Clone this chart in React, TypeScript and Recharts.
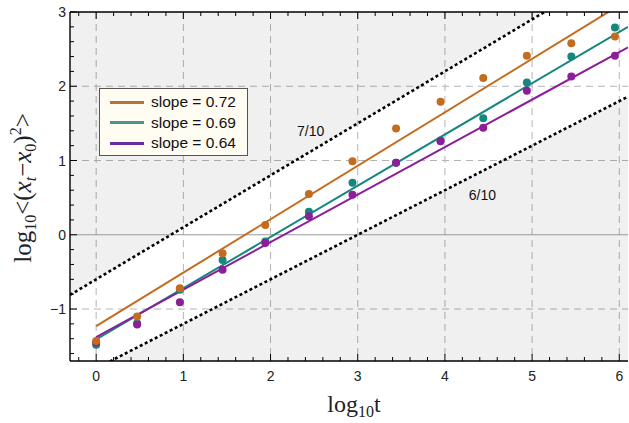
import React from "react";
import {
  ComposedChart,
  Line,
  Scatter,
  Area,
  XAxis,
  YAxis,
  CartesianGrid,
  ReferenceLine,
  ReferenceDot,
  Legend,
} from "recharts";

// ---- data ----
const logT = [0, 0.47, 0.96, 1.45, 1.94, 2.44, 2.94, 3.44, 3.95, 4.44, 4.94, 5.45, 5.95];
const orangeVals = [-1.43, -1.1, -0.72, -0.25, 0.13, 0.55, 0.99, 1.43, 1.79, 2.11, 2.41, 2.58, 2.67];
const tealVals = [-1.48, -1.19, -0.74, -0.34, -0.09, 0.31, 0.7, 0.97, 1.27, 1.57, 2.05, 2.4, 2.79];
const purpleVals = [-1.45, -1.21, -0.91, -0.47, -0.11, 0.25, 0.54, 0.97, 1.26, 1.44, 1.94, 2.13, 2.41];

const fitOrange = [{ x: 0, y: -1.23 }, { x: 6.1, y: 3.162 }];
const fitTeal = [{ x: 0, y: -1.41 }, { x: 6.1, y: 2.799 }];
const fitPurple = [{ x: 0, y: -1.38 }, { x: 6.1, y: 2.524 }];

const guideUpper = [{ x: -0.3, y: -0.81 }, { x: 6.1, y: 3.67 }]; // slope 7/10
const guideLower = [{ x: -0.3, y: -1.98 }, { x: 6.1, y: 1.86 }]; // slope 6/10

const legendItems = [
  { label: "slope = 0.72", color: "#B8733A" },
  { label: "slope = 0.69", color: "#4E918D" },
  { label: "slope = 0.64", color: "#6B2C9E" },
];

const annotations = [
  { x: 2.46, y: 1.4, text: "7/10" },
  { x: 4.43, y: 0.53, text: "6/10" },
];

const xTickLabels = [0, 1, 2, 3, 4, 5, 6];
const yTickLabels = [-1, 0, 1, 2, 3];
const xDomain: [number, number] = [-0.3, 6.1];
const yDomain: [number, number] = [-1.7, 3];

// ---- derived tables ----
const pts = (vals: number[]) => logT.map((x, i) => ({ x, y: vals[i] }));
const orangePts = pts(orangeVals);
const tealPts = pts(tealVals);
const purplePts = pts(purpleVals);

const upperShade = guideUpper.map((p) => ({ x: p.x, band: [p.y, 5] }));
const lowerShade = guideLower.map((p) => ({ x: p.x, band: [-4, p.y] }));

const xMinor: number[] = [];
for (let i = 0; i <= 31; i++) xMinor.push(Math.round((-0.2 + i * 0.2) * 10) / 10);
const yMinor: number[] = [];
for (let i = 0; i <= 23; i++) yMinor.push(Math.round((-1.6 + i * 0.2) * 10) / 10);

const isMajorX = (v: number) => xTickLabels.some((t) => Math.abs(t - v) < 1e-6);
const isMajorY = (v: number) => yTickLabels.some((t) => Math.abs(t - v) < 1e-6);
const fmt = (v: number) => (v < 0 ? "\u2212" + Math.abs(v) : String(v));

const COL_O = "#C46C1E";
const COL_T = "#16877F";
const COL_P = "#8C1E98";
const SANS = "'Liberation Sans', Arial, sans-serif";
const SERIF = "'Liberation Serif', 'Times New Roman', serif";

const XTickBottom = (props: any) => {
  const { x, y, payload } = props;
  const major = isMajorX(payload.value);
  return (
    <g>
      <line x1={x} x2={x} y1={y} y2={y - (major ? 7 : 4)} stroke="#000" strokeWidth={1} />
      {major && (
        <text x={x} y={y + 20} textAnchor="middle" fontSize={14} fontFamily={SANS} fill="#222">
          {fmt(payload.value)}
        </text>
      )}
    </g>
  );
};

const XTickTop = (props: any) => {
  const { x, y, payload } = props;
  const major = isMajorX(payload.value);
  return <line x1={x} x2={x} y1={y} y2={y + (major ? 7 : 4)} stroke="#000" strokeWidth={1} />;
};

const YTickLeft = (props: any) => {
  const { x, y, payload } = props;
  const major = isMajorY(payload.value);
  return (
    <g>
      <line x1={x} x2={x + (major ? 7 : 4)} y1={y} y2={y} stroke="#000" strokeWidth={1} />
      {major && (
        <text x={x - 4} y={y + 5} textAnchor="end" fontSize={14} fontFamily={SANS} fill="#222">
          {fmt(payload.value)}
        </text>
      )}
    </g>
  );
};

const YLabel = () => (
  <text
    transform="translate(31,188) rotate(-90)"
    textAnchor="middle"
    fontFamily={SERIF}
    fontSize={25}
    fill="#222"
  >
    <tspan>log</tspan>
    <tspan fontSize={16} dy={5}>10</tspan>
    <tspan dy={-5}>{"<("}</tspan>
    <tspan fontStyle="italic">x</tspan>
    <tspan fontStyle="italic" fontSize={16} dy={5}>t</tspan>
    <tspan dy={-5}>{"\u2212"}</tspan>
    <tspan fontStyle="italic">x</tspan>
    <tspan fontSize={16} dy={5}>0</tspan>
    <tspan dy={-5}>)</tspan>
    <tspan fontSize={16} dy={-10}>2</tspan>
    <tspan dy={10}>{">"}</tspan>
  </text>
);

const XLabel = () => (
  <text x={354} y={412} textAnchor="middle" fontFamily={SERIF} fontSize={24} fill="#222">
    <tspan>log</tspan>
    <tspan fontSize={16} dy={5}>10</tspan>
    <tspan dy={-5}>t</tspan>
  </text>
);

const LegendBox = () => (
  <div
    style={{
      width: 149,
      height: 68,
      boxSizing: "border-box",
      border: "1px solid #555",
      background: "#FFFCF2",
      padding: "3px 0 0 10px",
      fontFamily: SANS,
      fontSize: 15.5,
      color: "#111",
    }}
  >
    {legendItems.map((it) => (
      <div key={it.label} style={{ display: "flex", alignItems: "center", height: 20.5 }}>
        <div style={{ width: 34, height: 3, background: it.color, marginRight: 7 }} />
        <span>{it.label}</span>
      </div>
    ))}
  </div>
);

const dot = (color: string) => (p: any) => <circle cx={p.cx} cy={p.cy} r={4} fill={color} />;

export default function App() {
  return (
    <div style={{ position: "absolute", left: 0, top: 0, background: "#fff" }}>
      <ComposedChart width={629} height={423} margin={{ top: 0, right: 1, bottom: 0, left: 0 }}>
        <CartesianGrid
          stroke="#b4b4b4"
          strokeDasharray="7 5"
          verticalValues={xTickLabels}
          horizontalValues={[-1, 1, 2]}
        />
        <XAxis
          xAxisId={0}
          dataKey="x"
          type="number"
          domain={xDomain}
          allowDataOverflow
          ticks={xMinor}
          interval={0}
          tickSize={0}
          tickMargin={0}
          tickLine={false}
          tick={<XTickBottom />}
          axisLine={{ stroke: "#000", strokeWidth: 1.4 }}
          height={62}
          label={<XLabel />}
        />
        <XAxis
          xAxisId="top"
          orientation="top"
          dataKey="x"
          type="number"
          domain={xDomain}
          allowDataOverflow
          ticks={xMinor}
          interval={0}
          tickSize={0}
          tickMargin={0}
          tickLine={false}
          tick={<XTickTop />}
          axisLine={{ stroke: "#000", strokeWidth: 1.4 }}
          height={12}
        />
        <YAxis
          type="number"
          domain={yDomain}
          allowDataOverflow
          ticks={yMinor}
          interval={0}
          tickSize={0}
          tickMargin={0}
          tickLine={false}
          tick={<YTickLeft />}
          axisLine={{ stroke: "#000", strokeWidth: 1.4 }}
          width={70}
          label={<YLabel />}
        />
        <Area
          data={upperShade}
          dataKey="band"
          type="linear"
          stroke="none"
          fill="#000"
          fillOpacity={0.06}
          isAnimationActive={false}
          activeDot={false}
          legendType="none"
        />
        <Area
          data={lowerShade}
          dataKey="band"
          type="linear"
          stroke="none"
          fill="#000"
          fillOpacity={0.06}
          isAnimationActive={false}
          activeDot={false}
          legendType="none"
        />
        <ReferenceLine y={0} stroke="#999" strokeWidth={1} />
        <Line
          data={guideUpper}
          dataKey="y"
          type="linear"
          stroke="#000"
          strokeWidth={2.6}
          strokeDasharray="3 2.6"
          dot={false}
          activeDot={false}
          isAnimationActive={false}
        />
        <Line
          data={guideLower}
          dataKey="y"
          type="linear"
          stroke="#000"
          strokeWidth={2.6}
          strokeDasharray="3 2.6"
          dot={false}
          activeDot={false}
          isAnimationActive={false}
        />
        <Line data={fitOrange} dataKey="y" type="linear" stroke={COL_O} strokeWidth={2} dot={false} activeDot={false} isAnimationActive={false} />
        <Line data={fitTeal} dataKey="y" type="linear" stroke={COL_T} strokeWidth={2} dot={false} activeDot={false} isAnimationActive={false} />
        <Line data={fitPurple} dataKey="y" type="linear" stroke={COL_P} strokeWidth={2} dot={false} activeDot={false} isAnimationActive={false} />
        <Scatter data={tealPts} dataKey="y" shape={dot(COL_T)} isAnimationActive={false} />
        <Scatter data={purplePts} dataKey="y" shape={dot(COL_P)} isAnimationActive={false} />
        <Scatter data={orangePts} dataKey="y" shape={dot(COL_O)} isAnimationActive={false} />
        {annotations.map((a) => (
          <ReferenceDot
            key={a.text}
            x={a.x}
            y={a.y}
            r={0}
            fill="none"
            stroke="none"
            label={{ value: a.text, position: "center", fontSize: 14, fontFamily: SANS, fill: "#111" }}
          />
        ))}
        <Legend
          layout="vertical"
          align="center"
          verticalAlign="middle"
          content={<LegendBox />}
          wrapperStyle={{ left: 99, top: 88, width: 149 }}
        />
      </ComposedChart>
    </div>
  );
}
